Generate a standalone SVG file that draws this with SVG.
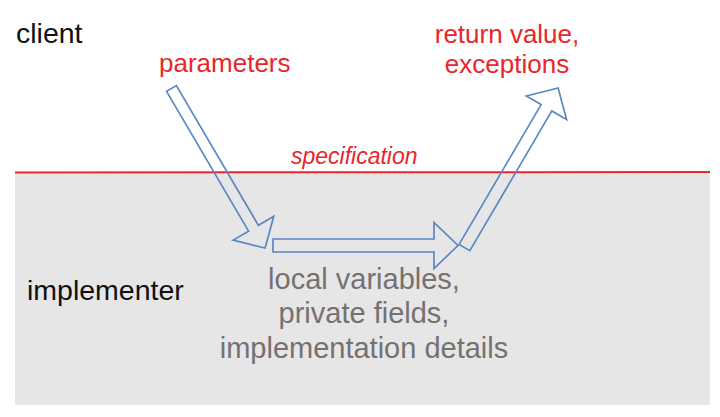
<svg xmlns="http://www.w3.org/2000/svg" width="720" height="417" viewBox="0 0 720 417">
<style>
  text { font-family: "Liberation Sans", Arial, sans-serif; }
  .lbl { font-size: 28.5px; fill: #111111; }
  .red { font-size: 26px; fill: #e8262b; }
  .gray { font-size: 29px; fill: #757171; text-anchor: middle; }
  .arrow { fill: none; stroke: #5b87c5; stroke-width: 1.7; stroke-linejoin: miter; }
</style>
<rect x="0" y="0" width="720" height="417" fill="#ffffff"/>
<rect id="implementer-area" x="15" y="172" width="695" height="233" fill="#e6e6e6"/>
<g id="specification">
  <line x1="15" y1="172.5" x2="710" y2="172" stroke="#e8262b" stroke-width="2"/>
  <text x="291" y="164" font-style="italic" fill="#e8262b" style="font-size:23px">specification</text>
</g>
<g id="client"><text class="lbl" x="16" y="43">client</text></g>
<g id="implementer"><text class="lbl" x="27" y="300">implementer</text></g>
<g id="parameters"><text class="red" x="159" y="72">parameters</text></g>
<g id="return"><text class="red" x="507" y="43" text-anchor="middle">return value,</text><text class="red" x="507" y="73" text-anchor="middle">exceptions</text></g>
<g id="details">
  <text class="gray" x="364" y="289">local variables,</text>
  <text class="gray" x="364" y="323">private fields,</text>
  <text class="gray" x="364" y="358">implementation details</text>
</g>
<g id="connectors">
  <polygon class="arrow" transform="translate(171.5,88.5) rotate(59.6)" points="0,-5.7 162,-5.7 162,-23.5 185,0 162,23.5 162,5.7 0,5.7"/>
  <polygon class="arrow" transform="translate(273,245.5)" points="0,-6.5 161,-6.5 161,-23 185,0 161,23 161,6.5 0,6.5"/>
  <polygon class="arrow" transform="translate(464.5,247.5) rotate(-59.6)" points="0,-6.2 162,-6.2 162,-23.3 185,0 162,23.3 162,6.2 0,6.2"/>
</g>
</svg>
